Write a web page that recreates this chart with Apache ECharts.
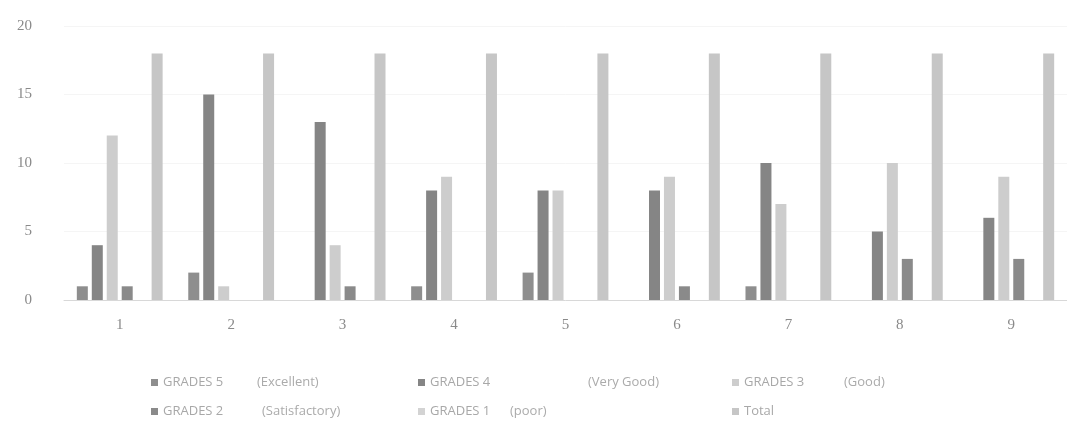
<!DOCTYPE html>
<html>
<head>
<meta charset="utf-8">
<script src="https://cdn.jsdelivr.net/npm/echarts@6/dist/echarts.min.js"></script>
<style>
  html, body { margin: 0; padding: 0; background: #fff; }
  #main { width: 1067px; height: 439px; }
</style>
</head>
<body>
<div id="main"></div>
<script>
// values
const categories = ["1", "2", "3", "4", "5", "6", "7", "8", "9"];
const grade5 = [1, 2, 0, 1, 2, 0, 1, 0, 0];
const grade4 = [4, 15, 13, 8, 8, 8, 10, 5, 6];
const grade3 = [12, 1, 4, 9, 8, 9, 7, 10, 9];
const grade2 = [1, 0, 1, 0, 0, 1, 0, 3, 3];
const grade1 = [0, 0, 0, 0, 0, 0, 0, 0, 0];
const total = [18, 18, 18, 18, 18, 18, 18, 18, 18];
const yTicks = [0, 5, 10, 15, 20];

const seriesList = [
  { name: "GRADES 5", note: "(Excellent)", data: grade5, color: "#8e8e8e", w: 94 },
  { name: "GRADES 4", note: "(Very Good)", data: grade4, color: "#858585", w: 158 },
  { name: "GRADES 3", note: "(Good)", data: grade3, color: "#cdcdcd", w: 100 },
  { name: "GRADES 2", note: "(Satisfactory)", data: grade2, color: "#8a8a8a", w: 99 },
  { name: "GRADES 1", note: "(poor)", data: grade1, color: "#d3d3d3", w: 80 },
  { name: "Total", note: "", data: total, color: "#c6c6c6", w: 40 }
];

// legend positions: two rows of three
const legendPos = [
  [146, 371], [413, 371], [727, 371],
  [146, 400], [413, 400], [727, 400]
];

let chart = echarts.init(document.getElementById("main"));

let legends = seriesList.map((s, i) => ({
  data: [s.name],
  left: legendPos[i][0],
  top: legendPos[i][1],
  itemWidth: 7,
  itemHeight: 7,
  icon: "rect",
  itemGap: 0,
  formatter: name => "{a|" + name + "}{b|" + s.note + "}",
  textStyle: {
    color: "#a8a8a8",
    fontFamily: "Open Sans",
    fontSize: 13,
    rich: {
      a: { width: s.w, color: "#a8a8a8", fontFamily: "Open Sans", fontSize: 13 },
      b: { color: "#ababab", fontFamily: "Open Sans", fontSize: 13 }
    }
  }
}));

let option = {
  backgroundColor: "#ffffff",
  animation: false,
  legend: legends,
  grid: { left: 64, right: -8, top: 26, bottom: 139 },
  xAxis: {
    type: "category",
    data: categories,
    axisTick: { show: false },
    axisLine: { lineStyle: { color: "#d8d8d8" } },
    axisLabel: { color: "#8a8a8a", fontFamily: "Liberation Serif", fontSize: 15, margin: 18 }
  },
  yAxis: {
    type: "value",
    min: yTicks[0],
    max: yTicks[yTicks.length - 1],
    interval: 5,
    axisLine: { show: false },
    axisTick: { show: false },
    splitLine: { lineStyle: { color: "#f5f5f5" } },
    axisLabel: { color: "#8a8a8a", fontFamily: "Liberation Serif", fontSize: 15, margin: 32 }
  },
  series: seriesList.map(s => ({
    name: s.name,
    type: "bar",
    data: s.data,
    barWidth: 11,
    barGap: "36%",
    itemStyle: { color: s.color }
  }))
};

chart.setOption(option);
</script>
</body>
</html>
